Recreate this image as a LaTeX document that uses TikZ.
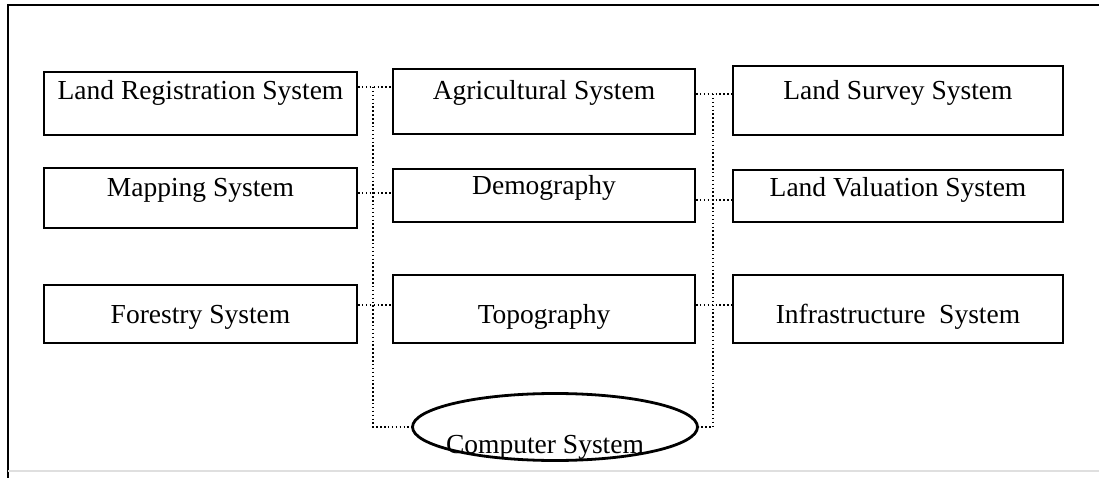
\documentclass[tikz,border=0pt]{standalone}
\usepackage{fontspec}
\setmainfont{Liberation Serif}
\usetikzlibrary{shapes.geometric}
\begin{document}
\begin{tikzpicture}[x=1pt,y=-1pt]
        \tikzset{BoxStyle/.style={draw, line width=2pt, inner sep=0pt,
        text height=20pt, font=\fontsize{27.5}{31}\selectfont}}
        \tikzset{LinkStyle/.style={line width=1.5pt, dash pattern=on 1.5pt off 2.4pt}}
        \useasboundingbox (0,0) rectangle (1099,478);
        \draw[line width=2pt] (1099,5) -- (8,5) -- (8,478);
        \draw[gray!25, line width=1.5pt] (8,471) -- (1099,471);
        \node[BoxStyle, minimum width=313pt, minimum height=63pt, text depth=27pt] (LRS) at (200.5,103.5) {Land Registration System};
        \node[BoxStyle, minimum width=302pt, minimum height=65pt, text depth=23pt] (AGR) at (544,101.5) {Agricultural System};
        \node[BoxStyle, minimum width=330pt, minimum height=69pt, text depth=21pt] (LSS) at (898,100.5) {Land Survey System};
        \node[BoxStyle, minimum width=313pt, minimum height=60pt, text depth=22pt] (MAP) at (200.5,198) {Mapping System};
        \node[BoxStyle, minimum width=302pt, minimum height=53pt, text depth=21pt] (DEM) at (544,195.5) {Demography};
        \node[BoxStyle, minimum width=330pt, minimum height=52pt, text depth=18pt] (LVS) at (898,196) {Land Valuation System};
        \node[BoxStyle, minimum width=313pt, minimum height=58pt, text height=30pt, text depth=12pt] (FOR) at (200.5,314) {Forestry System};
        \node[BoxStyle, minimum width=302pt, minimum height=68pt, text height=34pt, text depth=6pt] (TOP) at (544,309) {Topography};
        \node[BoxStyle, minimum width=330pt, minimum height=68pt, text height=34pt, text depth=6pt] (INF) at (898,309) {Infrastructure\ \ System};
        \node[draw, ellipse, line width=2.8pt, inner sep=0pt, minimum width=285pt, minimum height=67pt] (CS) at (555,427) {};
        \node[anchor=base, font=\fontsize{27.5}{31}\selectfont] (CSText) at (545,453) {Computer System};
        \coordinate (LA) at (373,87);
        \coordinate (LB) at (373,193);
        \coordinate (LC) at (373,305);
        \coordinate (LD) at (373,427);
        \coordinate (RA) at (713,94);
        \coordinate (RB) at (713,200);
        \coordinate (RC) at (713,305);
        \coordinate (RD) at (713,427);
        \draw[LinkStyle] (LRS.east |- LA) -- (AGR.west |- LA);
        \draw[LinkStyle] (MAP.east |- LB) -- (DEM.west |- LB);
        \draw[LinkStyle] (FOR.east |- LC) -- (TOP.west |- LC);
        \draw[LinkStyle] (LA) -- (LD) -- (CS.west);
        \draw[LinkStyle] (AGR.east |- RA) -- (LSS.west |- RA);
        \draw[LinkStyle] (DEM.east |- RB) -- (LVS.west |- RB);
        \draw[LinkStyle] (TOP.east |- RC) -- (INF.west |- RC);
        \draw[LinkStyle] (RA) -- (RD) -- (CS.east);
    \end{tikzpicture}
\end{document}
